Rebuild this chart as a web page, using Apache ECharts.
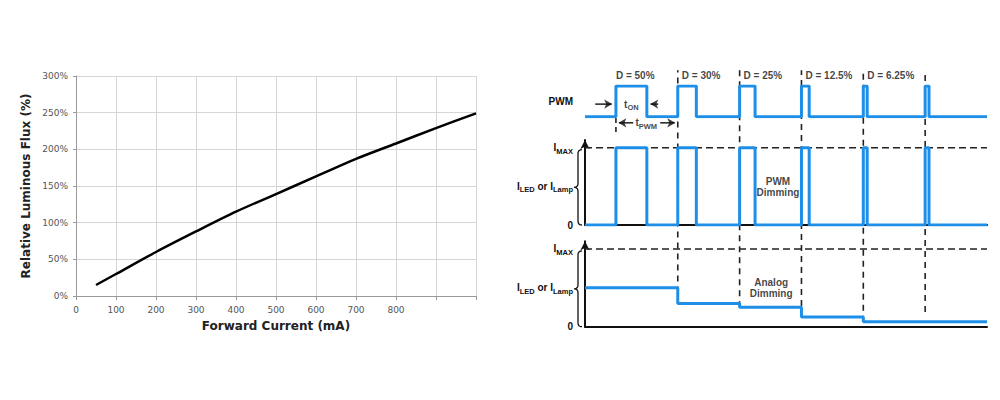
<!DOCTYPE html>
<html>
<head>
<meta charset="utf-8">
<script src="https://cdn.jsdelivr.net/npm/echarts@6/dist/echarts.min.js"></script>
<style>
  html, body { margin: 0; background: #fff; }
  #main { width: 1000px; height: 400px; }
</style>
</head>
<body>
<div id="main"></div>
<script>
// left chart: relative luminous flux vs forward current
var currentMA = [50, 100, 200, 300, 400, 500, 600, 700, 800, 900, 1000];
var fluxPct = [15, 30, 60, 88, 115, 139, 163, 187, 208, 229, 249];
var lastLabelledTick = 800;

// right diagram: time in PWM periods, levels as fraction of IMAX
var dutyCycles = [0.5, 0.3, 0.25, 0.125, 0.0625, 0.0625];
var dutyLabels = ['D = 50%', 'D = 30%', 'D = 25%', 'D = 12.5%', 'D = 6.25%'];
var analogLevels = [0.5, 0.3, 0.25, 0.125, 0.0625, 0.0625];
var dashBottoms = [0.3, 0.25, 0.125, 0.0625, 0.19];
var dashTop = 3.3; // in units of the analog panel
var tStart = -0.5, tEnd = 6;

var BLUE = '#1e8fe8';
var INK = '#111';
var ARIAL = 'Liberation Sans';
var subRich = {
  s: { fontFamily: ARIAL, fontWeight: 'bold', fontSize: 7.5, color: INK, lineHeight: 7, padding: [7, 0, 0, 0] }
};

function pwmWave() {
  var pts = [[tStart, 0]];
  dutyCycles.forEach(function (d, k) {
    pts.push([k, 0], [k, 1], [k + d, 1], [k + d, 0]);
  });
  pts.push([tEnd, 0]);
  return pts;
}

function analogWave() {
  var pts = [[tStart, analogLevels[0]]];
  for (var k = 1; k < analogLevels.length; k++) {
    pts.push([k, analogLevels[k - 1]], [k, analogLevels[k]]);
  }
  pts.push([tEnd, analogLevels[analogLevels.length - 1]]);
  return pts;
}

function near(a, b) { return Math.abs(a - b) < 1e-6; }

function diagramY(idx, max, labels) {
  return {
    type: 'value', gridIndex: idx, min: 0, max: max,
    axisLine: {
      show: idx !== 1, onZero: false, symbol: ['none', 'arrow'], symbolSize: [7, 9],
      lineStyle: { color: INK, width: 2 }
    },
    axisTick: { show: false },
    splitLine: { show: false },
    axisLabel: {
      customValues: Object.keys(labels).map(Number),
      margin: 12,
      fontFamily: ARIAL, fontWeight: 'bold', fontSize: 10, color: INK,
      rich: subRich,
      formatter: function (v) {
        for (var key in labels) { if (near(Number(key), v)) return labels[key]; }
        return '';
      }
    }
  };
}

function diagramX(idx) {
  return {
    type: 'value', gridIndex: idx, min: tStart, max: tEnd,
    axisLine: { show: idx !== 1, lineStyle: { color: INK, width: 2 } },
    axisTick: { show: false }, axisLabel: { show: false }, splitLine: { show: false }
  };
}

function segment(idx, a, b, dashed) {
  return {
    type: 'line', xAxisIndex: idx, yAxisIndex: idx, data: [a, b],
    symbol: 'none', z: 1, silent: true, clip: false,
    lineStyle: dashed
      ? { color: '#222', width: 1.6, type: dashed }
      : { color: INK, width: 1.4 }
  };
}

function heads(idx, items) {
  return {
    type: 'scatter', xAxisIndex: idx, yAxisIndex: idx, clip: false, silent: true, z: 2,
    symbol: 'arrow', symbolSize: [7, 8],
    itemStyle: { color: INK },
    data: items.map(function (h) { return { value: h.at, symbolRotate: h.rot }; })
  };
}

function noteSeries(idx, items) {
  return {
    type: 'scatter', xAxisIndex: idx, yAxisIndex: idx, symbolSize: 0, clip: false, silent: true,
    data: items,
    label: {
      show: true, fontFamily: ARIAL, fontWeight: 'bold', fontSize: 10, color: INK,
      lineHeight: 11, rich: subRich,
      formatter: function (p) { return p.data.text; }
    }
  };
}

var chart = echarts.init(document.getElementById('main'), null, { renderer: 'svg' });

var series = [
  {
    type: 'line', xAxisIndex: 0, yAxisIndex: 0, smooth: 0.3, symbol: 'none',
    data: currentMA.map(function (c, i) { return [c, fluxPct[i]]; }),
    lineStyle: { color: '#000', width: 2.5 }
  },
  { type: 'line', xAxisIndex: 1, yAxisIndex: 1, symbol: 'none', data: pwmWave(), z: 3, lineStyle: { color: BLUE, width: 3 } },
  { type: 'line', xAxisIndex: 2, yAxisIndex: 2, symbol: 'none', data: pwmWave(), z: 3, lineStyle: { color: BLUE, width: 3 } },
  { type: 'line', xAxisIndex: 3, yAxisIndex: 3, symbol: 'none', data: analogWave(), z: 3, lineStyle: { color: BLUE, width: 3 } },
  segment(2, [tStart, 1], [tEnd, 1], [7, 4]),
  segment(3, [tStart, 1], [tEnd, 1], [7, 4]),
  // t_ON and t_PWM dimension lines
  segment(1, [-0.335, 0.41], [-0.07, 0.41]),
  segment(1, [0.684, 0.41], [0.56, 0.41]),
  segment(1, [0.28, -0.2], [0.05, -0.2]),
  segment(1, [0.716, -0.2], [0.95, -0.2]),
  segment(1, [0, -0.04], [0, -0.53], [5, 4]),
  heads(1, [
    { at: [-0.06, 0.41], rot: -90 },
    { at: [0.555, 0.41], rot: 90 },
    { at: [0.04, -0.2], rot: 90 },
    { at: [0.96, -0.2], rot: -90 }
  ]),
  noteSeries(1, dutyLabels.map(function (t, k) {
    return { value: [k, 1.335], text: t, label: { position: 'right', distance: k === 0 ? 0 : 4 } };
  }).concat([
    { value: [0.25, 0.41], text: 't{s|ON}', label: { position: 'inside' } },
    { value: [0.49, -0.2], text: 't{s|PWM}', label: { position: 'inside' } }
  ])),
  noteSeries(2, [{ value: [2.62, 0.49], text: 'PWM\nDimming', label: { position: 'inside', align: 'center' } }]),
  noteSeries(3, [{ value: [2.51, 0.5], text: 'Analog\nDimming', label: { position: 'inside', align: 'center' } }])
];

// period boundaries running down through all three traces
dashBottoms.forEach(function (b, i) {
  series.push(segment(3, [i + 1, b], [i + 1, dashTop], [6, 5]));
});

var option = {
  animation: false,
  backgroundColor: '#fff',
  grid: [
    { left: 76, top: 76, width: 400, height: 220, containLabel: false },
    { left: 585, top: 86, width: 402, height: 30.7, containLabel: false },
    { left: 585, top: 140, width: 402, height: 85, containLabel: false },
    { left: 585, top: 241.2, width: 402, height: 85.5, containLabel: false }
  ],
  xAxis: [
    {
      type: 'value', gridIndex: 0, min: 0, max: 1000, interval: 100,
      name: 'Forward Current (mA)', nameLocation: 'middle', nameGap: 24,
      nameTextStyle: { fontFamily: 'DejaVu Sans', fontWeight: 'bold', fontSize: 12, color: '#222' },
      axisLine: { lineStyle: { color: '#999' } },
      axisTick: { show: true, length: 4, lineStyle: { color: '#999' } },
      splitLine: { show: true, lineStyle: { color: '#d6d6d6' } },
      axisLabel: {
        margin: 9, fontFamily: 'DejaVu Sans', fontSize: 9, color: '#555',
        formatter: function (v) { return v <= lastLabelledTick ? String(v) : ''; }
      }
    },
    diagramX(1), diagramX(2), diagramX(3)
  ],
  yAxis: [
    {
      type: 'value', gridIndex: 0, min: 0, max: 300, interval: 50,
      name: 'Relative Luminous Flux (%)', nameLocation: 'middle', nameGap: 44,
      nameTextStyle: { fontFamily: 'DejaVu Sans', fontWeight: 'bold', fontSize: 12, color: '#222' },
      axisLine: { show: true, lineStyle: { color: '#999' } },
      axisTick: { show: true, length: 3, lineStyle: { color: '#999' } },
      splitLine: { show: true, lineStyle: { color: '#d6d6d6' } },
      axisLabel: { margin: 8, fontFamily: 'DejaVu Sans', fontSize: 9, color: '#555', formatter: '{value}%' }
    },
    diagramY(1, 1, { 0.5: 'PWM' }),
    diagramY(2, 1.1, { 0: '0', 0.5: 'I{s|LED} or I{s|Lamp}', 1: 'I{s|MAX}' }),
    diagramY(3, 1.1, { 0: '0', 0.5: 'I{s|LED} or I{s|Lamp}', 1: 'I{s|MAX}' })
  ],
  series: series
};

chart.setOption(option);

// curly braces joining IMAX and 0 on the two current axes
function quad(p0, p1, p2, out) {
  for (var i = 1; i <= 6; i++) {
    var t = i / 6, u = 1 - t;
    out.push([u * u * p0[0] + 2 * u * t * p1[0] + t * t * p2[0],
              u * u * p0[1] + 2 * u * t * p1[1] + t * t * p2[1]]);
  }
}

function brace(idx) {
  var hi = chart.convertToPixel({ xAxisIndex: idx, yAxisIndex: idx }, [tStart, 1]);
  var lo = chart.convertToPixel({ xAxisIndex: idx, yAxisIndex: idx }, [tStart, 0]);
  var xe = hi[0] - 3, x = hi[0] - 7, xt = hi[0] - 11;
  var top = hi[1] + 2, bot = lo[1], mid = (top + bot) / 2;
  var pts = [[xe, top]];
  quad([xe, top], [x, top], [x, top + 4], pts);
  pts.push([x, mid - 4]);
  quad([x, mid - 4], [x, mid], [xt, mid], pts);
  quad([xt, mid], [x, mid], [x, mid + 4], pts);
  pts.push([x, bot - 4]);
  quad([x, bot - 4], [x, bot], [xe, bot], pts);
  return { type: 'polyline', silent: true, shape: { points: pts }, style: { fill: null, stroke: INK, lineWidth: 1.3 } };
}

chart.setOption({ graphic: [brace(2), brace(3)] });
</script>
</body>
</html>
